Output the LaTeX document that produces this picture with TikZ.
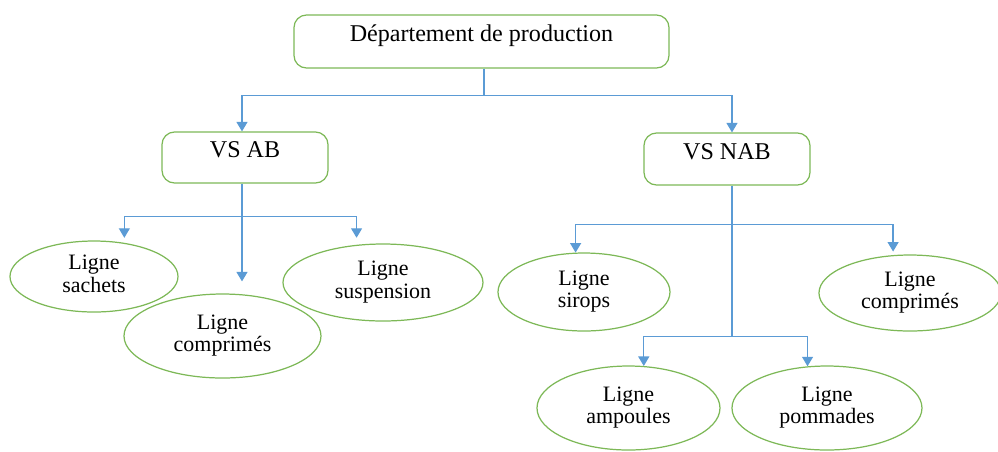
\documentclass[tikz,border=0pt]{standalone}
\usepackage{fontspec}
\setmainfont{Liberation Serif}
\usepackage{tikz}
\usetikzlibrary{arrows.meta}
\usetikzlibrary{shapes.geometric}
\usetikzlibrary{positioning,calc}
\definecolor{boxgreen}{HTML}{7DB857}
\definecolor{linkblue}{HTML}{5B9BD5}
\tikzset{
    state/.style={
           rectangle,
           rounded corners=2.5mm,
           draw=boxgreen, line width=0.7pt,
           text height=0.35cm,
           text depth=0.35cm,
           inner sep=2pt,
           font=\fontsize{13.7}{16}\selectfont,
           text centered,
           },
    line/.style={
           ellipse,
           draw=boxgreen, line width=0.7pt,
           inner sep=0pt,
           font=\fontsize{12.5}{12.7}\selectfont,
           text centered,
           },
    link/.style={
           draw=linkblue, line width=0.7pt,
           },
}

\begin{document}
\begin{tikzpicture}
[
>={Triangle[length=0.19cm,width=0.22cm]}
]
\useasboundingbox (-9.63,0.83) rectangle (10.33,-8.19);

 % Top node
 \node[state,
 minimum width=7.5cm,
 minimum height=1.06cm] (DEPT)
 {%
Département de production
 };

 % Next node: VS AB
 \node[state,
 below of=DEPT,
 node distance=2.32cm,
 xshift=-4.73cm,
 minimum width=3.32cm,
 minimum height=1.02cm] (VSAB)
 {%
VS AB
 };

 % VS NAB
 \node[state,
 below of=DEPT,
 node distance=2.35cm,
 xshift=4.91cm,
 minimum width=3.32cm,
 minimum height=1.04cm] (VSNAB)
 {%
VS NAB
 };

 % lines under VS AB
 \node[line,
 below of=VSAB,
 node distance=2.38cm,
 xshift=-3.02cm,
 minimum width=3.36cm,
 minimum height=1.42cm] (SACHETS)
 {%
 \begin{tabular}{c}
  Ligne\\ sachets
 \end{tabular}
 };

 \node[line,
 below of=VSAB,
 node distance=3.57cm,
 xshift=-0.45cm,
 minimum width=3.94cm,
 minimum height=1.68cm] (COMPA)
 {%
 \begin{tabular}{c}
  Ligne\\ comprimés
 \end{tabular}
 };

 \node[line,
 below of=VSAB,
 node distance=2.50cm,
 xshift=2.76cm,
 minimum width=4cm,
 minimum height=1.54cm] (SUSP)
 {%
 \begin{tabular}{c}
  Ligne\\ suspension
 \end{tabular}
 };

 % lines under VS NAB
 \node[line,
 below of=VSNAB,
 node distance=2.66cm,
 xshift=-2.86cm,
 minimum width=3.44cm,
 minimum height=1.56cm] (SIROPS)
 {%
 \begin{tabular}{c}
  Ligne\\ sirops
 \end{tabular}
 };

 \node[line,
 below of=VSNAB,
 node distance=2.68cm,
 xshift=3.66cm,
 minimum width=3.64cm,
 minimum height=1.52cm] (COMPB)
 {%
 \begin{tabular}{c}
  Ligne\\ comprimés
 \end{tabular}
 };

 \node[line,
 below of=VSNAB,
 node distance=4.98cm,
 xshift=-1.97cm,
 minimum width=3.66cm,
 minimum height=1.68cm] (AMPOULES)
 {%
 \begin{tabular}{c}
  Ligne\\ ampoules
 \end{tabular}
 };

 \node[line,
 below of=VSNAB,
 node distance=4.98cm,
 xshift=2.00cm,
 minimum width=3.8cm,
 minimum height=1.68cm] (POMMADES)
 {%
 \begin{tabular}{c}
  Ligne\\ pommades
 \end{tabular}
 };

 % branch points
 \coordinate (TOPS) at ([xshift=0.05cm]DEPT.south);
 \coordinate (TOPJ) at ([yshift=-0.54cm]TOPS);
 \coordinate (ABS) at ([xshift=-0.06cm]VSAB.south);
 \coordinate (ABJ) at ([yshift=-0.66cm]ABS);
 \coordinate (NABS) at ([xshift=0.1cm]VSNAB.south);
 \coordinate (NABJ) at ([yshift=-0.78cm]NABS);
 \coordinate (NABK) at ([yshift=-3.02cm]NABS);

 % draw the links
 \draw[link] (TOPS) -- (TOPJ);
 \draw[link,->] (TOPJ) -| ([xshift=-0.06cm]VSAB.north);
 \draw[link,->] (TOPJ) -| ([xshift=0.1cm]VSNAB.north);

 \draw[link,->,shorten >=0.24cm] (ABS) -- (ABS |- COMPA.north);
 \draw[link,->,shorten >=0.1cm] (ABJ) -| (SACHETS.48);
 \draw[link,->,shorten >=0.14cm] (ABJ) -| (SUSP.125);

 \draw[link] (NABS) -- (NABK);
 \draw[link,->] (NABJ) -| (SIROPS.102);
 \draw[link,->,shorten >=0.07cm] (NABJ) -| (COMPB.114);
 \draw[link,->] (NABK) -| (AMPOULES.70);
 \draw[link,->] (NABK) -| (POMMADES.115);
\end{tikzpicture}
\end{document}
